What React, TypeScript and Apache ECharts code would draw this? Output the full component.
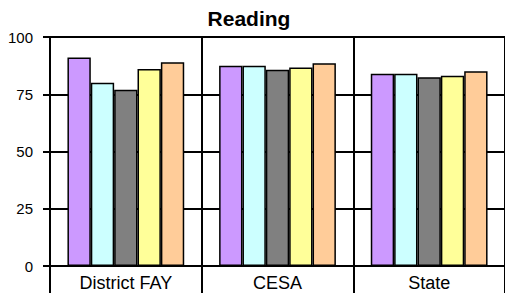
import React, { useEffect, useRef } from "react";
import * as echarts from "echarts";

const categories = ["District FAY", "CESA", "State"];
const seriesNames = ["S1", "S2", "S3", "S4", "S5"];
const seriesColors = ["#CC99FF", "#CCFFFF", "#808080", "#FFFF99", "#FFCC99"];
const seriesValues = [
  [91, 87.5, 84],
  [80, 87.5, 84],
  [77, 85.7, 82.4],
  [86, 86.7, 83.1],
  [89, 88.5, 85],
];
const yTicks = [0, 25, 50, 75, 100];

export default function App() {
  const ref = useRef<HTMLDivElement>(null);
  useEffect(() => {
    const chart = echarts.init(ref.current!, undefined, { renderer: "svg" });
    chart.setOption({
      animation: false,
      title: {
        text: "Reading",
        left: 244,
        textAlign: "center",
        top: 3,
        textStyle: { fontFamily: "Liberation Sans", fontSize: 21, fontWeight: "bold", color: "#000" },
      },
      grid: { left: 50, right: -2, top: 37, bottom: 27 },
      xAxis: {
        type: "category",
        data: categories,
        axisLine: { lineStyle: { color: "#000", width: 2 } },
        axisTick: { show: true, length: 28, lineStyle: { color: "#000", width: 2 } },
        axisLabel: { fontFamily: "Liberation Sans", fontSize: 18, color: "#000", margin: 8 },
        splitLine: { show: true, lineStyle: { color: "#000", width: 2 } },
      },
      yAxis: {
        type: "value",
        min: 0,
        max: 100,
        interval: 25,
        axisLine: { show: true, lineStyle: { color: "#000", width: 2 } },
        axisTick: { show: true, length: 7, lineStyle: { color: "#000", width: 2 } },
        axisLabel: {
          fontFamily: "Liberation Sans",
          fontSize: 15,
          color: "#000",
          margin: 17,
          formatter: (v: number) => (yTicks.includes(v) ? String(v) : ""),
        },
        splitLine: { show: true, lineStyle: { color: "#000", width: 2 } },
      },
      series: seriesNames.map((name, i) => ({
        name,
        type: "bar",
        data: seriesValues[i],
        barGap: "0%",
        barCategoryGap: "23%",
        itemStyle: { color: seriesColors[i], borderColor: "#000", borderWidth: 1.5 },
      })),
    });
    return () => chart.dispose();
  }, []);
  return (
    <div
      ref={ref}
      style={{ position: "fixed", left: 0, top: 0, width: 505, height: 293, background: "#fff" }}
    />
  );
}
